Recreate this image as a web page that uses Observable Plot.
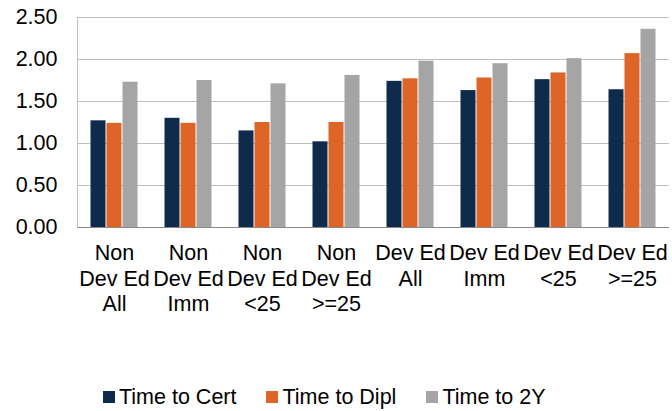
<!DOCTYPE html>
<html>
<head>
<meta charset="utf-8">
<script src="https://cdn.jsdelivr.net/npm/d3@7"></script>
<script src="https://cdn.jsdelivr.net/npm/@observablehq/plot@0.6"></script>
<style>
  html, body { margin: 0; padding: 0; background: #fff; }
  body { width: 672px; height: 411px; overflow: hidden; font-family: "Liberation Sans", Arial, sans-serif; }
  #legend { height: 44px; display: flex; align-items: center; font-size: 21.5px; color: #000; padding-left: 103px; }
  .item { display: flex; align-items: center; margin-right: 30px; }
  .sw { width: 12px; height: 12px; margin-right: 4px; }
</style>
</head>
<body>
<div id="chart"></div>
<div id="legend"></div>
<script>
const groups = ["Non\nDev Ed\nAll", "Non\nDev Ed\nImm", "Non\nDev Ed\n<25", "Non\nDev Ed\n>=25",
                "Dev Ed\nAll", "Dev Ed\nImm", "Dev Ed\n<25", "Dev Ed\n>=25"];
const series = ["Time to Cert", "Time to Dipl", "Time to 2Y"];
const colors = ["#0e2b4b", "#dc6527", "#a5a5a5"];
const timeToCert = [1.27, 1.30, 1.15, 1.02, 1.74, 1.63, 1.76, 1.64];
const timeToDipl = [1.24, 1.24, 1.25, 1.25, 1.77, 1.78, 1.84, 2.07];
const timeTo2Y   = [1.73, 1.75, 1.71, 1.81, 1.98, 1.95, 2.01, 2.36];
const yTicks = [0, 0.5, 1.0, 1.5, 2.0, 2.5];

const seriesValues = [timeToCert, timeToDipl, timeTo2Y];
const data = [];
groups.forEach((g, i) => series.forEach((s, j) => data.push({group: g, series: s, value: seriesValues[j][i]})));

const chart = Plot.plot({
  width: 672,
  height: 375,
  marginLeft: 73,
  marginRight: 0,
  marginTop: 17,
  marginBottom: 148,
  style: {fontFamily: "'Liberation Sans', Arial, sans-serif", fontSize: "21.5px", color: "#000", background: "#fff"},
  fx: {domain: groups, padding: 0, label: null},
  x: {domain: series, paddingInner: 0, paddingOuter: 0.77, axis: null},
  y: {domain: [0, 2.5], label: null},
  color: {domain: series, range: colors},
  marks: [
    Plot.gridY(yTicks.slice(1), {stroke: "#bfbfbf", strokeOpacity: 1, strokeWidth: 1}),
    Plot.barY(data, {fx: "group", x: "series", y: "value", fill: "series", insetLeft: 0.5, insetRight: 0.5}),
    Plot.ruleY([0], {stroke: "#888888", strokeWidth: 1.2}),
    Plot.frame({anchor: "left", facetAnchor: "left", stroke: "#bfbfbf"}),
    Plot.axisY({ticks: yTicks, tickFormat: d3.format(".2f"), tickSize: 0, tickPadding: 20, fontSize: 21.5, fill: "#000", label: null}),
    Plot.axisFx({anchor: "bottom", tickSize: 0, tickPadding: 15, fontSize: 21.5, lineHeight: 1.17, fill: "#000", label: null})
  ]
});
document.getElementById("chart").appendChild(chart);

const legend = document.getElementById("legend");
series.forEach((s, j) => {
  const it = document.createElement("div");
  it.className = "item";
  const sw = document.createElement("div");
  sw.className = "sw";
  sw.style.background = colors[j];
  const t = document.createElement("span");
  t.textContent = s;
  it.appendChild(sw); it.appendChild(t);
  legend.appendChild(it);
});
</script>
</body>
</html>
